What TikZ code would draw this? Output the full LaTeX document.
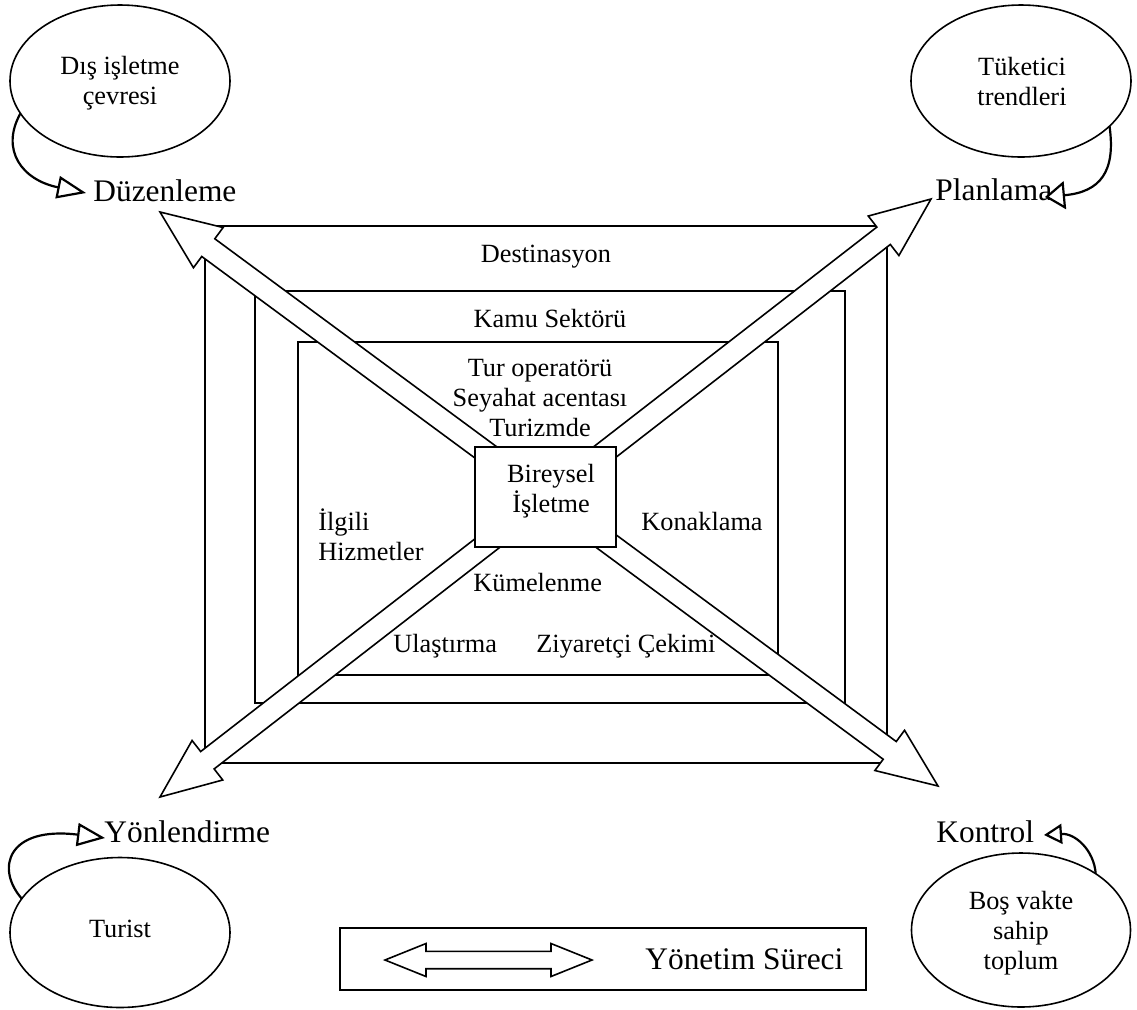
\documentclass[tikz,border=0pt]{standalone}
\usepackage{fontspec}
\setmainfont{Liberation Serif}
\usetikzlibrary{calc,shapes.geometric,arrows.meta}

\newcommand\mainsize{\fontsize{13.15pt}{15pt}\selectfont}
\newcommand\bigsize{\fontsize{15.7pt}{18pt}\selectfont}

% double-headed block arrow between two tips:
% #1,#2 tips, #3 head length, #4 head half width, #5 shaft half width
\newcommand\fatdouble[5]{%
  \filldraw[fat] (#1)
    -- ($(#1)!#3!(#2)!#4!90:(#2)$)
    -- ($(#1)!#3!(#2)!#5!90:(#2)$)
    -- ($(#2)!#3!(#1)!#5!-90:(#1)$)
    -- ($(#2)!#3!(#1)!#4!-90:(#1)$)
    -- (#2)
    -- ($(#2)!#3!(#1)!#4!90:(#1)$)
    -- ($(#2)!#3!(#1)!#5!90:(#1)$)
    -- ($(#1)!#3!(#2)!#5!-90:(#2)$)
    -- ($(#1)!#3!(#2)!#4!-90:(#2)$)
    -- cycle;}

\tikzset{
  frame/.style={draw, line width=0.8pt, inner sep=0pt, outer sep=0pt},
  oval/.style={ellipse, draw, line width=0.8pt, inner sep=0pt, outer sep=0pt},
  fat/.style={draw=black, fill=white, line width=0.8pt, line join=miter},
  lbl/.style={inner sep=0pt, font=\mainsize},
  big/.style={inner sep=0pt, font=\bigsize},
  feedarrow/.style n args={2}{line width=1.1pt,
    -{Triangle[length=#1,width=#2,fill=white]}},
}

\begin{document}
\begin{tikzpicture}[x=0.5pt,y=-0.5pt]
\useasboundingbox (0,0) rectangle (1137,1009);

% nested frames
\node[frame, minimum width=341pt, minimum height=268.5pt] (dest) at (546,494.5) {};
\node[frame, minimum width=295pt, minimum height=206pt] (kamu) at (550,497) {};
\node[frame, minimum width=240pt, minimum height=166.5pt] (tur) at (538,508.5) {};

% management-process diagonals
\coordinate (tD) at (160,212);
\coordinate (tK) at (938,786);
\coordinate (tP) at (931,199);
\coordinate (tY) at (160,797);
\fatdouble{tD}{tK}{30pt}{12.5pt}{5.5pt}
\fatdouble{tP}{tY}{30pt}{12.5pt}{5.5pt}

% core box
\node[frame, fill=white, minimum width=70.5pt, minimum height=50pt] (birey) at (545.5,497) {};

% texts inside the frames
\node[lbl, anchor=base] (tdest) at (546,262) {Destinasyon};
\node[lbl, anchor=base] (tkamu) at (550,327) {Kamu Sektörü};
\node[lbl, align=center] (ttur) at (540,398) {Tur operatörü\\Seyahat acentası\\Turizmde};
\node[lbl, align=center] (tbir) at (551,491) {Bireysel\\İşletme};
\node[lbl, align=left, anchor=west] (tilg) at (318,534.5) {İlgili\\Hizmetler};
\node[lbl, anchor=base west] (tkon) at (641,530) {Konaklama};
\node[lbl, anchor=base west] (tkum) at (473,591) {Kümelenme};
\node[lbl, anchor=base west] (tula) at (393,652) {Ulaştırma};
\node[lbl, anchor=base west] (tziy) at (536,652) {Ziyaretçi Çekimi};

% functions at the corners
\node[big, anchor=base west] (lD) at (93,201) {Düzenleme};
\node[big, anchor=base west] (lP) at (935,200) {Planlama};
\node[big, anchor=base west] (lY) at (104,842) {Yönlendirme};
\node[big, anchor=base west] (lK) at (936,842) {Kontrol};

% environment ovals
\node[oval, minimum width=110pt, minimum height=76pt] (e1) at (120,81) {};
\node[oval, minimum width=110pt, minimum height=76pt] (e2) at (1021,81) {};
\node[oval, minimum width=110pt, minimum height=75pt] (e3) at (120,932.5) {};
\node[oval, minimum width=109.5pt, minimum height=77pt] (e4) at (1021,930) {};
\node[lbl, align=center] (te1) at (120,83.4) {Dış işletme\\çevresi};
\node[lbl, align=center] (te2) at (1022,81) {Tüketici\\trendleri};
\node[lbl, anchor=base] (te3) at (120,937) {Turist};
\node[lbl, align=center] (te4) at (1021,932.8) {Boş vakte\\sahip\\toplum};

% feedback arrows from the ovals
\coordinate (fD) at (86,193);
\coordinate (fP) at (1045,197);
\coordinate (fY) at (105,838);
\coordinate (fK) at (1044,835);
\draw[feedarrow={14.5pt}{11.25pt}] (e1.198) .. controls (0,150) and (22,180) .. (fD);
\draw[feedarrow={10pt}{14pt}] (e2.333) .. controls (1116,172) and (1100,192) .. (fP);
\draw[feedarrow={14pt}{11.5pt}] (e3.161) .. controls (-5,868) and (8,826) .. (fY);
\draw[feedarrow={9pt}{10pt}] (e4.37) .. controls (1094,850) and (1075,833) .. (fK);

% legend
\node[frame, minimum width=263pt, minimum height=31pt] (legend) at (603,959) {};
\coordinate (lgL) at (385,960);
\coordinate (lgR) at (592,960);
\fatdouble{lgL}{lgR}{20.5pt}{8.25pt}{4.35pt}
\node[big, anchor=base west] (lS) at (645,969) {Yönetim Süreci};
\end{tikzpicture}
\end{document}
